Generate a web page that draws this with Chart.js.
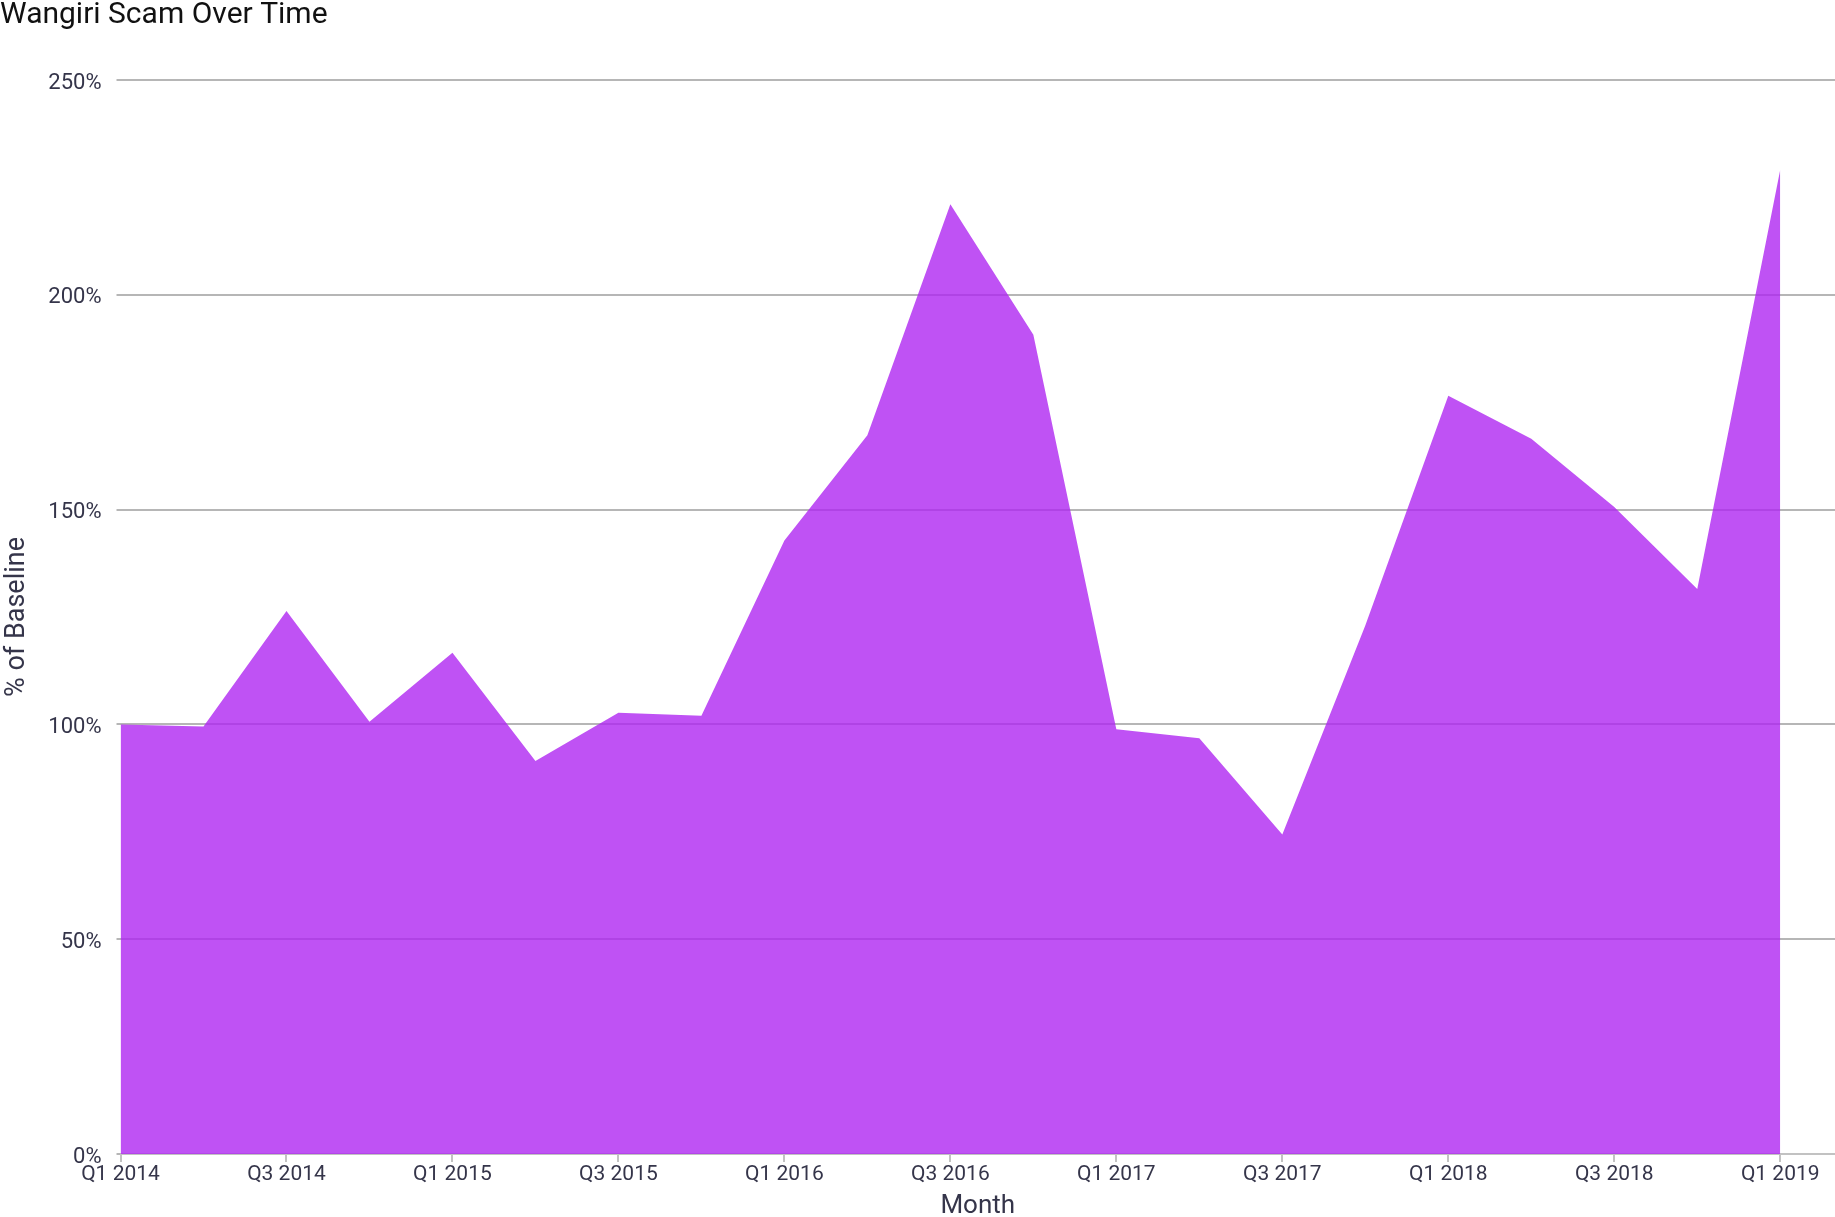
<!DOCTYPE html>
<html>
<head>
<meta charset="utf-8">
<script src="https://cdn.jsdelivr.net/npm/chart.js@4.4.1/dist/chart.umd.min.js"></script>
<style>
  html, body { margin: 0; padding: 0; background: #ffffff; }
  #wrap { position: relative; width: 1835px; height: 1217px; }
</style>
</head>
<body>
<div id="wrap"><canvas id="c"></canvas></div>
<script>
// ---- data ----
const quarterLabels = [
  "Q1 2014", "Q2 2014", "Q3 2014", "Q4 2014",
  "Q1 2015", "Q2 2015", "Q3 2015", "Q4 2015",
  "Q1 2016", "Q2 2016", "Q3 2016", "Q4 2016",
  "Q1 2017", "Q2 2017", "Q3 2017", "Q4 2017",
  "Q1 2018", "Q2 2018", "Q3 2018", "Q4 2018",
  "Q1 2019"
];
const baselinePct = [
  100.0, 99.5, 126.4, 100.6,
  116.7, 91.5, 102.7, 102.0,
  142.8, 167.3, 221.1, 190.7,
  98.9, 96.8, 74.4, 123.0,
  176.5, 166.5, 150.6, 131.5,
  229.1
];
const yTickValues = [0, 50, 100, 150, 200, 250];

const FONT = "Roboto, 'Noto Sans', 'Liberation Sans', sans-serif";
const TEXT_DARK = "#35354a";

const points = baselinePct.map((v, i) => ({ x: i, y: v }));

new Chart(document.getElementById("c"), {
  type: "line",
  data: {
    datasets: [{
      label: "% of Baseline",
      data: points,
      fill: "origin",
      backgroundColor: "rgba(175, 39, 241, 0.8)",
      borderWidth: 0,
      borderColor: "rgba(0,0,0,0)",
      pointRadius: 0,
      pointHoverRadius: 0,
      tension: 0
    }]
  },
  options: {
    responsive: true,
    maintainAspectRatio: false,
    animation: false,
    devicePixelRatio: 1,
    layout: { padding: { left: 0, right: 0, top: 0, bottom: 0 } },
    plugins: {
      legend: { display: false },
      tooltip: { enabled: false },
      title: {
        display: true,
        text: "Wangiri Scam Over Time",
        align: "start",
        color: "#111111",
        font: { family: FONT, size: 30, weight: "normal", lineHeight: 1 },
        padding: { top: 0, bottom: 50 }
      }
    },
    scales: {
      x: {
        type: "linear",
        min: 0,
        max: 20.66,
        afterFit: (s) => { s.height = 63; },
        border: { display: true, color: "#c2c2c2", width: 2 },
        grid: {
          drawOnChartArea: false,
          drawTicks: true,
          tickLength: 8,
          color: "#c2c2c2",
          lineWidth: 2
        },
        ticks: {
          stepSize: 2,
          includeBounds: false,
          autoSkip: false,
          maxRotation: 0,
          padding: 2,
          color: TEXT_DARK,
          font: { family: FONT, size: 21, lineHeight: 1 },
          callback: (v) => quarterLabels[v] ?? ""
        },
        title: {
          display: true,
          text: "Month",
          color: TEXT_DARK,
          font: { family: FONT, size: 26, lineHeight: 1 },
          padding: { top: 0, bottom: -2 }
        }
      },
      y: {
        min: 0,
        max: 250,
        afterFit: (s) => { s.width = 120.5; },
        afterBuildTicks: (s) => { s.ticks = yTickValues.map(v => ({ value: v })); },
        border: { display: false },
        grid: {
          color: "#b6b6b6",
          lineWidth: 2,
          drawTicks: true,
          tickLength: 4
        },
        ticks: {
          padding: 15,
          labelOffset: 3,
          color: TEXT_DARK,
          font: { family: FONT, size: 22, lineHeight: 1 },
          callback: (v) => v + "%"
        },
        title: {
          display: true,
          text: "% of Baseline",
          color: TEXT_DARK,
          font: { family: FONT, size: 27, lineHeight: 1 },
          padding: { top: 4, bottom: 0 }
        }
      }
    }
  }
});
</script>
</body>
</html>
